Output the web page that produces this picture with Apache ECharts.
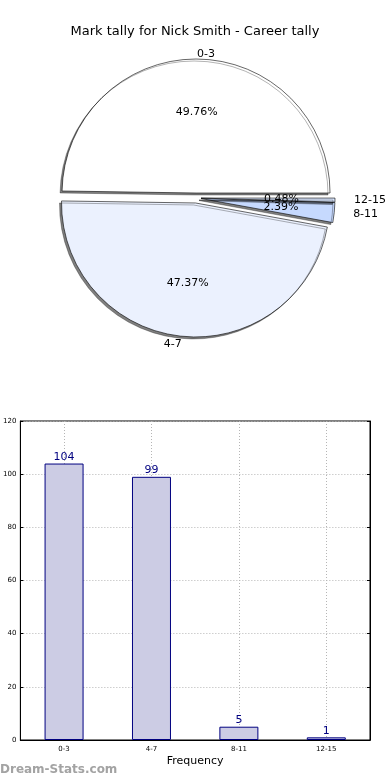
<!DOCTYPE html>
<html>
<head>
<meta charset="utf-8">
<script src="https://cdn.jsdelivr.net/npm/echarts@6/dist/echarts.min.js"></script>
<style>
html,body{margin:0;padding:0;background:#fff;}
#chart{width:390px;height:780px;}
</style>
</head>
<body>
<div id="chart"></div>
<script>
const titleText = 'Mark tally for Nick Smith - Career tally';
const categories = ['0-3', '4-7', '8-11', '12-15'];
const counts = [104, 99, 5, 1];
const sliceColors = ['#ffffff', '#ebf1fe', '#c6d9fe', '#d9e6fe'];
const labelReach = [5, 8, 19, 19];
const yTicks = { min: 0, max: 120, interval: 20 };
const xAxisName = 'Frequency';
const watermark = 'Dream-Stats.com';

const FONT = 'DejaVu Sans';
const chart = echarts.init(document.getElementById('chart'), null, { renderer: 'canvas' });

const pieData = categories.map((c, i) => ({
  name: c, value: counts[i], selected: true,
  itemStyle: { color: sliceColors[i] },
  labelLine: { show: false, length: labelReach[i], length2: 0 }
}));
const pieLabelData = categories.map((c, i) => ({ name: c, value: counts[i], selected: true }));

const gridLine = { show: true, lineStyle: { color: '#b5b5b5', type: [1, 2] } };
const option = {
  animation: false,
  backgroundColor: '#fff',
  title: {
    text: titleText, left: 'center', top: 20,
    textStyle: { fontFamily: FONT, fontSize: 13, fontWeight: 'normal', color: '#000' }
  },
  grid: {
    left: 19, right: 20, top: 421, bottom: 40,
    show: true, borderColor: '#000', borderWidth: 1, backgroundColor: '#fff'
  },
  xAxis: [{
    type: 'category', data: categories,
    name: xAxisName, nameLocation: 'middle', nameGap: 16,
    nameTextStyle: { fontFamily: FONT, fontSize: 11, color: '#000' },
    axisLine: { lineStyle: { color: '#000' } },
    axisTick: { inside: true, alignWithLabel: true, length: 3, lineStyle: { color: '#000' } },
    axisLabel: { fontFamily: FONT, fontSize: 7, color: '#000', margin: 6 },
    splitLine: Object.assign({ alignWithLabel: true }, gridLine)
  }, {
    type: 'category', data: categories, position: 'top',
    axisLine: { lineStyle: { color: '#000' } },
    axisTick: { inside: true, alignWithLabel: true, length: 3, lineStyle: { color: '#000' } },
    axisLabel: { show: false }, splitLine: { show: false }
  }],
  yAxis: [{
    type: 'value', min: yTicks.min, max: yTicks.max, interval: yTicks.interval,
    axisLine: { show: true, lineStyle: { color: '#000' } },
    axisTick: { show: true, inside: true, length: 3, lineStyle: { color: '#000' } },
    axisLabel: { fontFamily: FONT, fontSize: 7, color: '#000', margin: 4 },
    splitLine: gridLine
  }, {
    type: 'value', min: yTicks.min, max: yTicks.max, interval: yTicks.interval, position: 'right',
    axisLine: { show: true, lineStyle: { color: '#000' } },
    axisTick: { show: true, inside: true, length: 3, lineStyle: { color: '#000' } },
    axisLabel: { show: false }, splitLine: { show: false }
  }],
  graphic: [{
    type: 'text', left: 0, top: 764,
    style: { text: watermark, fontFamily: FONT, fontSize: 12, fontWeight: 'bold', fill: '#a3a3a3' }
  }],
  series: [
    {
      type: 'pie', center: [196, 198], radius: [0, 134],
      startAngle: 0, clockwise: false,
      selectedMode: 'multiple', selectedOffset: 5,
      avoidLabelOverlap: false, silent: true,
      data: pieData,
      itemStyle: {
        borderColor: '#000', borderWidth: 0.6,
        shadowColor: 'rgba(0,0,0,0.5)', shadowBlur: 0, shadowOffsetX: -2, shadowOffsetY: 2
      },
      select: { itemStyle: { borderColor: '#000', borderWidth: 0.6 } },
      emphasis: { disabled: true, scale: false },
      label: {
        show: true, position: 'outside', formatter: '{b}',
        fontFamily: FONT, fontSize: 11, color: '#000', distanceToLabelLine: 0
      },
      labelLine: { show: false, length: 6, length2: 0 },
      labelLayout: { hideOverlap: false }
    },
    {
      type: 'pie', center: [196, 198], radius: [0, 155],
      startAngle: 0, clockwise: false,
      selectedMode: 'multiple', selectedOffset: 5,
      avoidLabelOverlap: false, silent: true, z: 3, minShowLabelAngle: 0,
      data: pieLabelData,
      itemStyle: { color: 'rgba(0,0,0,0)', borderWidth: 0 },
      select: { itemStyle: { color: 'rgba(0,0,0,0)', borderWidth: 0 } },
      emphasis: { disabled: true, scale: false },
      label: {
        show: true, position: 'inside', formatter: '{d}%',
        fontFamily: FONT, fontSize: 11, color: '#000'
      },
      labelLine: { show: false },
      labelLayout: { hideOverlap: false }
    },
    {
      type: 'bar', data: counts, barWidth: 39,
      itemStyle: { color: '#ccccE4', borderColor: '#000080', borderWidth: 1 },
      label: { show: true, position: 'top', distance: 1, color: '#000080', fontFamily: FONT, fontSize: 11 },
      emphasis: { disabled: true }
    }
  ]
};
chart.setOption(option);
</script>
</body>
</html>
